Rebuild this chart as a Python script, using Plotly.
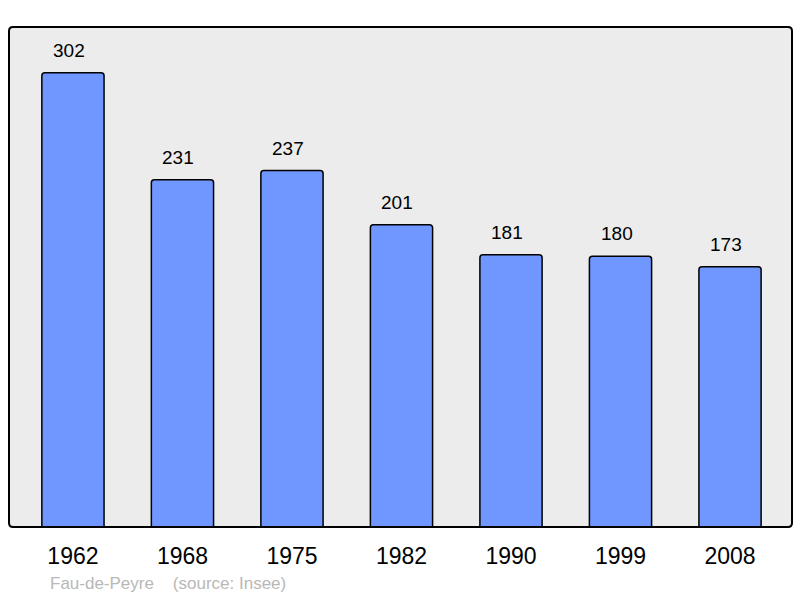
import plotly.graph_objects as go

years = ["1962", "1968", "1975", "1982", "1990", "1999", "2008"]
population = [302, 231, 237, 201, 181, 180, 173]

W, H = 800, 598
ml, mr, mt, mb = 9, 8, 27, 71
pw, ph = W - ml - mr, H - mt - mb

xs = list(range(len(years)))

fig = go.Figure()
fig.add_trace(go.Bar(
    x=xs, y=population, width=0.568,
    marker=dict(color="#7097ff", line=dict(color="#000000", width=1.5), cornerradius=3),
    hoverinfo="skip",
))

for xi, v in zip(xs, population):
    fig.add_annotation(x=xi, y=v, text=str(v), showarrow=False, yanchor="bottom",
                       yshift=10, xshift=-4, font=dict(size=19, color="#000000"))

fig.add_annotation(xref="paper", yref="paper", x=(48 - ml) / pw,
                   y=-(583 - (H - mb)) / ph, xanchor="left", yanchor="middle",
                   text="Fau-de-Peyre&nbsp;&nbsp;&nbsp;&nbsp;(source: Insee)", showarrow=False,
                   font=dict(size=17, color="#b8b8b8"))

r = 4
path = (f"M {r},0 L {pw - r},0 Q {pw},0 {pw},{r} L {pw},{ph - r} Q {pw},{ph} {pw - r},{ph} "
        f"L {r},{ph} Q 0,{ph} 0,{ph - r} L 0,{r} Q 0,0 {r},0 Z")
fig.add_shape(type="path", path=path, xref="paper", yref="paper",
              xsizemode="pixel", ysizemode="pixel", xanchor=0, yanchor=0,
              fillcolor="#ececec", line=dict(width=0), layer="below")
fig.add_shape(type="path", path=path, xref="paper", yref="paper",
              xsizemode="pixel", ysizemode="pixel", xanchor=0, yanchor=0,
              line=dict(color="#000000", width=2), layer="above")

fig.update_layout(
    width=W, height=H,
    margin=dict(l=ml, r=mr, t=mt, b=mb),
    paper_bgcolor="#ffffff", plot_bgcolor="#ffffff",
    font=dict(family="Liberation Sans, Arial, sans-serif"),
    showlegend=False,
    xaxis=dict(range=[-0.584, 6.566], tickvals=xs, ticktext=years, showgrid=False,
               zeroline=False, ticks="outside", ticklen=8, tickcolor="rgba(0,0,0,0)",
               tickfont=dict(size=23, color="#000000"), fixedrange=True),
    yaxis=dict(range=[0, 332.5], showgrid=False, zeroline=False, showticklabels=False,
               fixedrange=True),
)

fig.write_html("out.html", config={"displayModeBar": False},
               post_script="document.body.style.margin='0';")
